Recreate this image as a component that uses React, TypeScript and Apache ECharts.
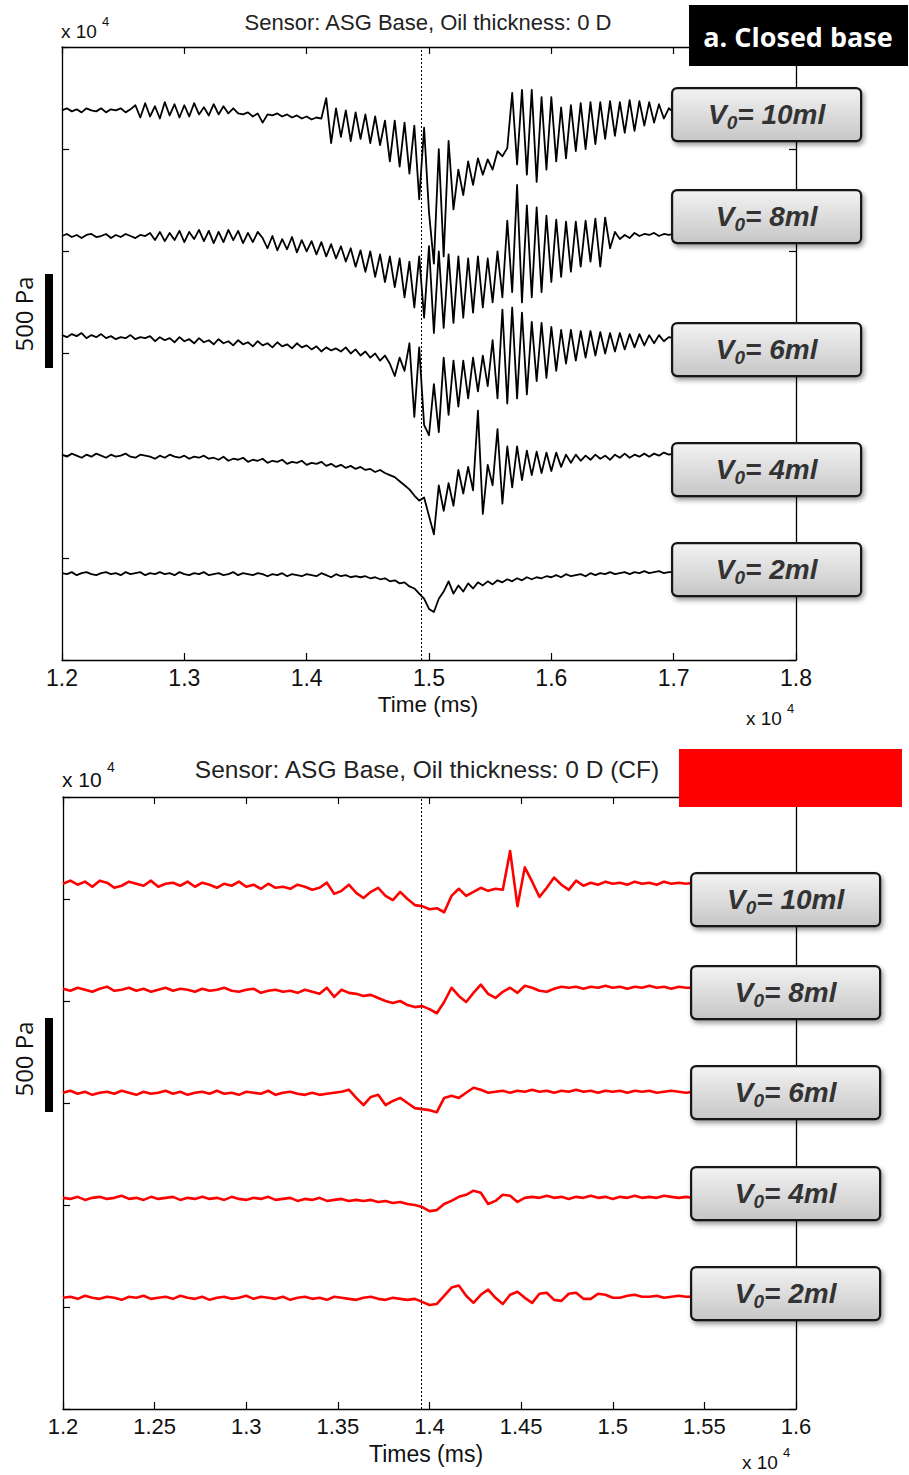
import React, { useEffect, useRef } from "react";
import * as echarts from "echarts";

// ---------- data ----------
const VOLUMES = ["10", "8", "6", "4", "2"];

// top panel: samples every 40 ms from 12000 ms, amplitudes in 1/100 division
const TOP_T0 = 12000;
const TOP_DT = 40;
const TOP_OFFSETS = [5.38, 4.15, 3.18, 2.01, 0.85];
const TOP_EVENT_T = 14935;

const TOP_10 = [
  0, 2, -1, 1, -2, 2, 0, -1, 2, -2, 1, 0, 2, -2, 1,
  5, -7, 7, -6, 4, -8, 8, -5, 6, -7, 5, -6, 7, -4, 3, -5, 6, -4, 4, -3, 2, -3,
  -4, -2, -6, -3, -12, -4, -5, -3, -6, -4, -7, -5, -8, -6, -9, -7, -8,
  12, -32, 2, -26, 0, -30, -2, -28, -4, -32, -6, -34, -10, -50, -10, -55, -12, -62, -15, -87, -17, -100, -150, -38, -143, -30, -97,
  -58, -83, -50, -73, -47, -63, -48, -58, -40, -45, -37,
  17, -53, 20, -63, 20, -70, 13, -58, 13, -50, 3, -47, 5, -40, 7, -38, 8, -33, 8, -28, 9, -25, 8, -22, 10, -20, 9, -15, 8, -12, 6, -8, 2, -2,
];
const TOP_8 = [
  0, 2, -1, 1, -2, 1, 2, -1, 0, 2, -2, 1, -1, 2, 0, -2, 1, 0,
  3, -4, 4, -5, 3, -4, 5, -6, 4, -3, 6, -5, 5, -7, 4, -6, 6, -4, 5, -7, 3, -6, 4,
  -2, -12, 0, -14, -3, -13, -1, -16, -4, -15, -5, -18, -6, -20, -8, -22, -10, -25, -12, -30,
  -14, -35, -15, -40, -18, -45, -20, -50, -22, -60, -25, -70, -20, -80,
  -10, -95, -15, -90, -18, -85, -20, -80, -22, -75, -20, -70, -22, -65, -15, -60,
  15, -55, 50, -65, 30, -60, 28, -55, 20, -45, 16, -40, 14, -35, 14, -30, 15, -25, 17, -30, 18, -12, 4, -3, 1, -2, 3, 0, 2, 1, 3, 0, 2, 1, 2,
];
const TOP_6 = [
  0, -2, 1, -1, 2, -3, 0, -2, 1, -3, -1, -4, -2, -3, 0, -4, -2, -3,
  -1, -6, -2, -5, -3, -7, -2, -6, -4, -8, -3, -7, -5, -9, -4, -8, -6, -10, -5, -9,
  -7, -11, -6, -10, -8, -12, -7, -11, -9, -13, -8, -12, -10, -14, -11, -16, -12, -15, -13,
  -16, -12, -18, -14, -20, -16, -22, -18, -25, -20, -28,
  -40, -22, -35, -8, -80, -12, -88, -98, -48, -95, -22, -78, -25, -70, -25, -62, -22, -55, -20, -50,
  -5, -62, 25, -67, 27, -62, 22, -58, 13, -45, 12, -42, 8, -35, 5, -28, 5, -25, 4, -22,
  4, -20, 3, -18, 2, -16, 2, -14, 1, -12, 1, -10, 0, -8, 0, -6, -2, -3,
];
const TOP_4 = [
  0, -2, 1, -1, -3, 0, -2, 1, -1, -3, 0, -2, -1, 1, -2, -3, 0, -1, -2, -4,
  -1, -3, 0, -2, -3, -1, -4, -2, -3, -1, -4,
  -3, -5, -2, -6, -4, -5, -3, -7, -5, -6, -4, -8, -6, -7, -5, -9, -7, -8, -6, -10,
  -8, -9, -7, -11, -9, -12, -10, -13, -11, -14, -12, -15,
  -14, -17, -15, -18, -20, -22, -26, -30, -34, -40, -45,
  -42, -60, -78, -30, -55, -28, -50, -15, -38, -12, -35,
  43, -58, -10, -30, 25, -48, 8, -32, 8, -25, 4, -20, 3, -18, 2, -16, 2, -12, 0, -8,
  0, -6, -1, -5, 0, -4, -1, -5, 0, -3, 1, -3, 0, -2, 1, -2, 1, -1, 2, 0, 1,
];
const TOP_2 = [
  0, -1, 1, -2, 0, 1, -1, -2, 0, 1, -1, 0, -2, 1, -1, 0, 1, -2, 0, -1,
  1, -1, 0, -2, 1, -1, -2, 0, -1, 1, -2, -1, 0, -2, -1, 1, -2, 0, -1, -2,
  0, -1, -3, -1, -2, 0, -3, -1, -2, -3, -1, -2, -3, 0, -2, -4, -1, -3, -2, -4, -3,
  -4, -3, -5, -4, -6, -5, -8, -7, -10, -9, -13, -15, -20, -25, -35, -38,
  -25, -18, -8, -20, -12, -18, -10, -15, -9, -12, -8, -11, -7, -9, -6, -8, -5, -7, -4, -6,
  -4, -5, -3, -4, -2, -4, -1, -3, -2, -1, -3, 0, -2, 0, -1, 1, -1, 0, 1, -1,
  1, 0, 2, 0, 1, 2, 0, 1, 1,
];

// bottom panel (CF): samples every 40 ms from 12000 ms
const BOT_T0 = 12000;
const BOT_DT = 40;
const BOT_OFFSETS = [5.15, 4.11, 3.1, 2.07, 1.09];
const BOT_EVENT_T = 13955;

const BOT_10 = [
  0, 3, -1, 2, -3, 3, 1, -4, -2, 2, 0, -2, 3, -3, 0, 1, -2, 2, -3, 1,
  -1, -4, 0, -2, 2, -3, -1, -5, 0, -4, -3, -5, -1, -3, -6, -4, 1, -10, -7, -1,
  -9, -14, -8, -4, -12, -16, -8, -15, -21, -22, -25, -24, -28, -12, -5, -12, -8, -4, -7, -5,
  -6, 32, -22, 16, 2, -13, -4, 6, -1, -6, 3, -2, 1, -1, 2, 0, 1, -1, 2, 0,
  1, -1, 2, 0, 1, 0, 1,
];
const BOT_8 = [
  1, -1, 2, 0, -2, 1, 3, -1, 0, 2, -1, 1, -2, 0, 2, -1, 1, 0, -2, 1,
  -1, 0, 2, -1, -2, 0, 1, -3, -1, 0, -2, -1, -3, 0, -2, -4, 2,
  -7, 0, -3, -4, -6, -5, -8, -11, -13, -11, -15, -17, -16, -19, -23, -12, 2, -6, -12, -3,
  5, -4, -8, -2, 2, -3, 4, 2, -1, -2, 1, 3,
  2, 3, 1, 3, 2, 4, 2, 3, 1, 3, 2, 4, 2, 3, 1, 3, 2, 2,
];
const BOT_6 = [
  0, 2, -1, 1, -2, 0, 1, -1, 2, 0, -2, 1, -1, 0, 2, -1, 1, -2, 0, 1,
  -1, 2, -1, 0, -2, 1, 0, -1, 2, -2, 0, 1, -1, -2, 0,
  -2, -1, 0, 1, 3, -5, -12, -4, -2, -12, -8, -5, -10, -15, -16, -17, -19, -5, -3, -5,
  0, 5, 3, 0, 1, 2,
  0, 2, 1, 3, 1, 2, 0, 2, 1, 3, 1, 2, 0, 2, 1, 2, 0, 2, 1, 2, 0, 1, 2, 1, 0, 1,
];
const BOT_4 = [
  0, -1, 1, -2, 0, 1, -1, 0, 2, -1, 0, -2, 1, -1, 0, 1, -2, 0, -1, 1,
  -1, 0, -2, 1, -1, -2, 0, -1, 1, -2, -1, 0, -3, -1, -2, 0, -3, -2, -1, -3, -2,
  -3, -2, -4, -3, -5, -4, -6, -7, -9, -13, -12, -6, -3, 1, 3, 7, 5, -6, -3, 3,
  2, -4, 0, 1,
  0, 2, 0, 1, -1, 1, 0, 2, 0, 1, -1, 1, 0, 2, 0, 1, 0, 2, 1, 0, 1, 0,
];
const BOT_2 = [
  0, 1, -1, 2, 0, -1, 1, 0, -2, 1, 0, 2, -1, 0, 1, -1, 2, 0, -1, 1,
  -2, 0, 1, -1, 0, 2, -1, 1, 0, -1, 1, -2, 0, 1, -1, 0, -2, 1, 0, -1,
  -2, 0, 1, -1, -2, 0, -1, -2, -1,
  -4, -7, -6, 2, 10, 12, 2, -5, 3, 8, 0, -6, 3, 6, 0, -5, 4, 5, -2, -3,
  4, 5, -1, -1, 4, 3, 0, 0, 2, 3,
  1, 1, 2, 0, 1, 2, 1, 1,
];

const TOP_SERIES = [TOP_10, TOP_8, TOP_6, TOP_4, TOP_2];
const BOT_SERIES = [BOT_10, BOT_8, BOT_6, BOT_4, BOT_2];

const TOP_TITLE = "Sensor: ASG Base, Oil thickness: 0 D";
const BOT_TITLE = "Sensor: ASG Base, Oil thickness: 0 D (CF)";
const TOP_XNAME = "Time (ms)";
const BOT_XNAME = "Times (ms)";
const PANEL_TAG = "a. Closed base";
const SCALE_LABEL = "500 Pa";

// ---------- helpers ----------
const SANS = "'Liberation Sans', Arial, sans-serif";
const fmt = (v: number) => String(Math.round(v) / 10000);

function makeX(grid: number, min: number, max: number, interval: number, pos: "bottom" | "top", fontSize: number) {
  return {
    type: "value",
    gridIndex: grid,
    min,
    max,
    interval,
    position: pos,
    axisLine: { show: true, onZero: false, lineStyle: { color: "#000", width: 1.3 } },
    axisTick: { show: true, inside: true, length: 7, lineStyle: { color: "#000", width: 1.2 } },
    axisLabel: {
      show: pos === "bottom",
      formatter: fmt,
      color: "#111",
      fontSize,
      fontFamily: SANS,
      margin: 6,
    },
    splitLine: { show: false },
  };
}
function makeY(grid: number, pos: "left" | "right") {
  return {
    type: "value",
    gridIndex: grid,
    min: 0,
    max: 6,
    interval: 1,
    position: pos,
    axisLine: { show: true, onZero: false, lineStyle: { color: "#000", width: 1.3 } },
    axisTick: { show: true, inside: true, length: 7, lineStyle: { color: "#000", width: 1.2 } },
    axisLabel: { show: false },
    splitLine: { show: false },
  };
}
function makeSeries(
  arr: number[], offset: number, t0: number, dt: number, xi: number, yi: number,
  color: string, width: number, eventT: number | null
) {
  const s: any = {
    type: "line",
    xAxisIndex: xi,
    yAxisIndex: yi,
    symbol: "none",
    showSymbol: false,
    silent: true,
    data: arr.map((d, i) => [t0 + i * dt, offset + d / 100]),
    lineStyle: { color, width, join: "round" },
    z: 3,
  };
  if (eventT !== null) {
    s.markLine = {
      silent: true,
      symbol: ["none", "none"],
      label: { show: false },
      lineStyle: { color: "#000", type: [2, 2], width: 1 },
      data: [{ xAxis: eventT }],
    };
  }
  return s;
}

function volumeBox(left: number, top: number, vol: string) {
  const w = 189, h = 53;
  return {
    type: "group",
    left,
    top,
    z: 20,
    children: [
      {
        type: "rect",
        shape: { x: 0, y: 0, width: w, height: h, r: 5 },
        style: {
          fill: new echarts.graphic.LinearGradient(0, 0, 0, 1, [
            { offset: 0, color: "#f3f3f3" },
            { offset: 1, color: "#c6c6c6" },
          ]),
          stroke: "#151515",
          lineWidth: 2.2,
          shadowBlur: 5,
          shadowOffsetX: 2,
          shadowOffsetY: 3,
          shadowColor: "rgba(0,0,0,0.4)",
        },
        z: 20,
      },
      {
        type: "text",
        x: w / 2,
        y: h / 2,
        z: 21,
        style: {
          text: `{v|V}{s|0}{v|= ${vol}ml}`,
          align: "center",
          verticalAlign: "middle",
          rich: {
            v: {
              fontSize: 28,
              fontWeight: "bold",
              fontStyle: "italic",
              fontFamily: SANS,
              fill: "#333",
              lineHeight: 34,
              verticalAlign: "middle",
            },
            s: {
              fontSize: 19,
              fontWeight: "bold",
              fontStyle: "italic",
              fontFamily: SANS,
              fill: "#333",
              lineHeight: 18,
              verticalAlign: "bottom",
            },
          },
        },
      },
    ],
  };
}

function text(x: number, y: number, s: string, size: number, extra: any = {}) {
  return {
    type: "text",
    x,
    y,
    z: 30,
    style: {
      text: s,
      fontSize: size,
      fontFamily: SANS,
      fill: "#111",
      align: "left",
      verticalAlign: "middle",
      ...extra,
    },
  };
}

const TOP_BOX_TOPS = [87, 189, 322, 442, 542];
const BOT_BOX_TOPS = [872, 965, 1065, 1166, 1266];

export default function App() {
  const ref = useRef<HTMLDivElement>(null);
  useEffect(() => {
    if (!ref.current) return;
    const chart = echarts.init(ref.current, undefined, { renderer: "svg" });

    const series: any[] = [];
    TOP_SERIES.forEach((arr, k) =>
      series.push(makeSeries(arr, TOP_OFFSETS[k], TOP_T0, TOP_DT, 0, 0, "#000", 1.8, k === 0 ? TOP_EVENT_T : null))
    );
    BOT_SERIES.forEach((arr, k) =>
      series.push(makeSeries(arr, BOT_OFFSETS[k], BOT_T0, BOT_DT, 2, 2, "#ff0000", 2.6, k === 0 ? BOT_EVENT_T : null))
    );

    const graphics: any[] = [
      text(428, 22, TOP_TITLE, 22, { align: "center", fill: "#222" }),
      text(427, 769, BOT_TITLE, 24.5, { align: "center", fill: "#222" }),
      text(428, 704, TOP_XNAME, 22.5, { align: "center" }),
      text(426, 1454, BOT_XNAME, 23, { align: "center" }),
      text(61, 31, "x 10", 19),
      text(102, 21, "4", 13),
      text(746, 718, "x 10", 19),
      text(787, 708, "4", 13),
      text(62, 779, "x 10", 21),
      text(107, 767, "4", 14),
      text(742, 1462, "x 10", 19),
      text(783, 1452, "4", 13),
      // scale bars
      { type: "rect", z: 30, shape: { x: 45, y: 274, width: 8, height: 94 }, style: { fill: "#000" } },
      { type: "rect", z: 30, shape: { x: 45, y: 1018, width: 8, height: 94 }, style: { fill: "#000" } },
      {
        type: "text", x: 23, y: 314, rotation: Math.PI / 2, z: 30,
        style: { text: SCALE_LABEL, fontSize: 24, fontFamily: "'Open Sans', sans-serif", fill: "#111", align: "center", verticalAlign: "middle" },
      },
      {
        type: "text", x: 23, y: 1059, rotation: Math.PI / 2, z: 30,
        style: { text: SCALE_LABEL, fontSize: 24, fontFamily: "'Open Sans', sans-serif", fill: "#111", align: "center", verticalAlign: "middle" },
      },
      // panel tag
      {
        type: "group", left: 689, top: 5, z: 40,
        children: [
          { type: "rect", shape: { x: 0, y: 0, width: 219, height: 61 }, style: { fill: "#000" }, z: 40 },
          {
            type: "text", x: 109, y: 31, z: 41,
            style: { text: PANEL_TAG, fontSize: 27, fontWeight: "bold", fontFamily: "'Open Sans', sans-serif", fill: "#fff", align: "center", verticalAlign: "middle" },
          },
        ],
      },
      { type: "rect", z: 40, shape: { x: 679, y: 749, width: 223, height: 58 }, style: { fill: "#ff0000" } },
    ];
    VOLUMES.forEach((v, k) => graphics.push(volumeBox(671, TOP_BOX_TOPS[k], v)));
    VOLUMES.forEach((v, k) => graphics.push(volumeBox(690, BOT_BOX_TOPS[k], v)));

    chart.setOption({
      animation: false,
      backgroundColor: "#fff",
      textStyle: { fontFamily: SANS },
      grid: [
        { left: 62, top: 47, width: 734, height: 613 },
        { left: 63, top: 797, width: 733, height: 612 },
      ],
      xAxis: [
        makeX(0, 12000, 18000, 1000, "bottom", 23),
        makeX(0, 12000, 18000, 1000, "top", 23),
        makeX(1, 12000, 16000, 500, "bottom", 22),
        makeX(1, 12000, 16000, 500, "top", 22),
      ],
      yAxis: [makeY(0, "left"), makeY(0, "right"), makeY(1, "left"), makeY(1, "right")],
      series,
      graphic: graphics,
    });
    return () => chart.dispose();
  }, []);
  return (
    <div
      ref={ref}
      style={{ position: "absolute", left: 0, top: 0, width: 909, height: 1475, background: "#fff" }}
    />
  );
}
